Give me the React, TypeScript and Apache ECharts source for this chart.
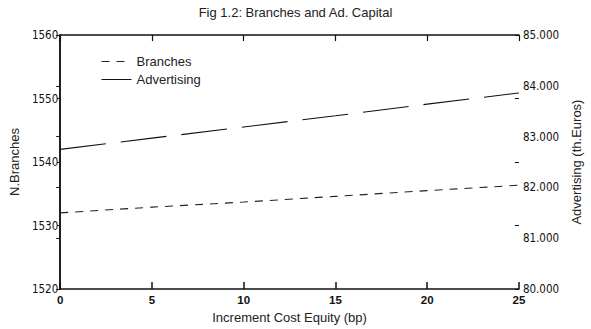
import React, { useEffect, useRef } from "react";
import * as echarts from "echarts";

// Increment in cost of equity (basis points)
const xValues = [0, 5, 10, 15, 20, 25];
// Number of branches (left axis)
const branches = [1532.0, 1532.9, 1533.7, 1534.6, 1535.5, 1536.35];
// Advertising capital in thousands of euros (right axis)
const advertising = [82750, 82970, 83190, 83410, 83640, 83860];

const TITLE = "Fig 1.2: Branches and Ad. Capital";
const X_NAME = "Increment Cost Equity (bp)";
const LEFT_NAME = "N.Branches";
const RIGHT_NAME = "Advertising (th.Euros)";

const SANS = "'Liberation Sans', Arial, Helvetica, sans-serif";
const NARROW = "'Liberation Sans Narrow', 'Arial Narrow', 'DejaVu Sans Condensed', sans-serif";
const INK = "#111";

const thousands = (v: number) =>
  String(Math.round(v)).replace(/\B(?=(\d{3})+(?!\d))/g, ".");

export default function App() {
  const ref = useRef<HTMLDivElement>(null);

  useEffect(() => {
    if (!ref.current) return;
    const chart = echarts.init(ref.current, undefined, { renderer: "svg" });
    const axisLine = { show: true, lineStyle: { color: INK, width: 1.5 } };

    chart.setOption({
      animation: false,
      backgroundColor: "#fff",
      title: {
        text: TITLE,
        left: "center",
        top: 6,
        padding: 0,
        textStyle: { fontFamily: SANS, fontSize: 13, fontWeight: "normal", color: "#222" },
      },
      legend: {
        orient: "vertical",
        left: 101,
        top: 55,
        padding: 0,
        itemWidth: 30,
        itemHeight: 14,
        itemGap: 5,
        // line-only keys, no marker
        itemStyle: { opacity: 0, color: "transparent", borderColor: "transparent", borderWidth: 0 },
        lineStyle: { width: 1 },
        textStyle: { fontFamily: SANS, fontSize: 13, color: "#222" },
        data: [
          { name: "Branches" },
          { name: "Advertising", lineStyle: { type: "solid", width: 1 } },
        ],
      },
      grid: { left: 52, right: 53, top: 35, bottom: 38 },
      xAxis: [
        {
          type: "value",
          min: 0,
          max: 25,
          interval: 5,
          position: "bottom",
          name: X_NAME,
          nameLocation: "middle",
          nameGap: 20,
          nameTextStyle: { fontFamily: SANS, fontSize: 13, color: "#222", verticalAlign: "top" },
          axisLine,
          axisTick: { show: true, inside: true, length: 7, lineStyle: { color: INK, width: 1.5 } },
          axisLabel: { margin: 5, fontFamily: SANS, fontSize: 11.5, fontWeight: "bold", color: INK },
          splitLine: { show: false },
        },
        {
          type: "value",
          min: 0,
          max: 25,
          interval: 5,
          position: "top",
          axisLine,
          axisTick: { show: true, inside: true, length: 6, lineStyle: { color: INK, width: 1.2 } },
          axisLabel: { show: false },
          splitLine: { show: false },
        },
      ],
      yAxis: [
        {
          type: "value",
          min: 1520,
          max: 1560,
          interval: 10,
          position: "left",
          name: LEFT_NAME,
          nameLocation: "middle",
          nameGap: 25,
          nameTextStyle: { fontFamily: SANS, fontSize: 13, color: "#222" },
          axisLine,
          axisTick: { show: true, inside: false, length: 3, lineStyle: { color: INK, width: 1 } },
          axisLabel: {
            margin: 2,
            fontFamily: NARROW,
            fontSize: 11.5,
            color: INK,
            formatter: (v: number) => String(v),
          },
          splitLine: { show: false },
        },
        {
          type: "value",
          min: 80000,
          max: 85000,
          interval: 1000,
          position: "right",
          name: RIGHT_NAME,
          nameLocation: "middle",
          nameGap: 39,
          nameRotate: 90,
          nameTextStyle: { fontFamily: SANS, fontSize: 13, color: "#222" },
          axisLine,
          axisTick: { show: true, inside: true, length: 4, lineStyle: { color: INK, width: 1 } },
          axisLabel: { margin: 4, fontFamily: NARROW, fontSize: 11.5, color: INK, formatter: thousands },
          splitLine: { show: false },
        },
        {
          // mirrored branch ticks on the right-hand frame
          type: "value",
          min: 1520,
          max: 1560,
          interval: 10,
          position: "right",
          axisLine: { show: false },
          axisTick: { show: true, inside: true, length: 4, lineStyle: { color: INK, width: 1 } },
          axisLabel: { show: false },
          splitLine: { show: false },
        },
      ],
      series: [
        {
          name: "Branches",
          type: "line",
          xAxisIndex: 0,
          yAxisIndex: 0,
          showSymbol: false,
          symbol: "none",
          data: xValues.map((x, i) => [x, branches[i]]),
          lineStyle: { color: "#222", width: 1.1, type: [8, 7] },
          itemStyle: { color: "#222" },
        },
        {
          name: "Advertising",
          type: "line",
          xAxisIndex: 0,
          yAxisIndex: 1,
          showSymbol: false,
          symbol: "none",
          data: xValues.map((x, i) => [x, advertising[i]]),
          lineStyle: { color: "#111", width: 1.1, type: [46, 15] },
          itemStyle: { color: "#111" },
        },
      ],
    });

    return () => chart.dispose();
  }, []);

  return (
    <div
      ref={ref}
      style={{ position: "fixed", left: 0, top: 0, width: 591, height: 329, background: "#fff" }}
    />
  );
}
